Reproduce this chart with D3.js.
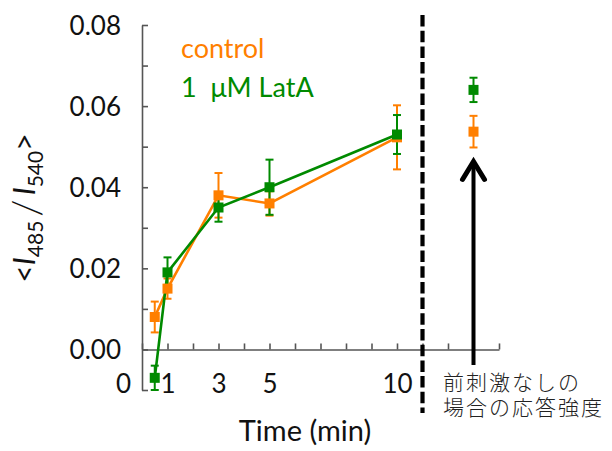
<!DOCTYPE html>
<html>
<head>
<meta charset="utf-8">
<script src="https://cdn.jsdelivr.net/npm/d3@7"></script>
<style>
  html, body { margin: 0; padding: 0; background: #fff; }
  svg { display: block; }
  text { font-family: Lato, "Noto Sans", sans-serif; fill: #111; }
</style>
</head>
<body>
<svg id="chart" width="612" height="451"></svg>
<script>
// Time after stimulus (min) and mean ratio <I485/I540> ± error
const times = [0.5, 1, 3, 5, 10];
const controlMean = [0.008, 0.015, 0.038, 0.036, 0.0523];
const controlErr  = [0.0038, 0.0025, 0.0055, 0.003, 0.0079];
const latAMean    = [-0.007, 0.019, 0.035, 0.040, 0.053];
const latAErr     = [0.003, 0.0037, 0.0035, 0.0068, 0.0048];

// Response without pre-stimulation, shown at a separate position
const noPreTime = 13;
const noPreControl = { mean: 0.0537, err: 0.0039 };
const noPreLatA    = { mean: 0.064,  err: 0.003 };

const dividerTime = 11;
const seriesNames = ["control", "1\u00a0\u00a0\u03bcM LatA"];
const seriesColors = ["#ff7f00", "#008a00"];

const xTicks = d3.range(0, 15);
const xLabeled = [0, 1, 3, 5, 10];
const yTicks = d3.range(-1, 9).map(d => d / 100);
const yLabeled = [0, 0.02, 0.04, 0.06, 0.08];
const noteLines = ["前刺激なしの", "場合の応答強度"];

const svg = d3.select("#chart");
const x = d3.scaleLinear().domain([0, 14]).range([142, 499]);
const y = d3.scaleLinear().domain([-0.01, 0.08]).range([390, 25]);

const axisColor = "#555";

// Y axis, ticks pointing inward
const yAxis = svg.append("g")
  .attr("transform", `translate(${x(0)},0)`)
  .call(d3.axisLeft(y).tickValues(yTicks).tickSizeInner(-6).tickSizeOuter(0)
    .tickFormat(d => yLabeled.some(v => Math.abs(v - d) < 1e-9) ? d3.format(".2f")(d) : ""));
yAxis.selectAll("path, line").attr("stroke", axisColor).attr("stroke-width", 1.6);
yAxis.selectAll("text").attr("x", -21).attr("dy", "0.36em")
  .style("font-size", "26px").style("font-family", "Lato, sans-serif").attr("fill", "#111");

// X axis along y = 0, ticks pointing inward
const xAxis = svg.append("g")
  .attr("transform", `translate(0,${y(0)})`)
  .call(d3.axisBottom(x).tickValues(xTicks).tickSizeInner(-6).tickSizeOuter(0)
    .tickFormat(d => xLabeled.includes(d) ? String(d) : ""));
xAxis.selectAll("path, line").attr("stroke", axisColor).attr("stroke-width", 1.6);
xAxis.selectAll("text").attr("y", 25)
  .style("font-size", "26px").style("font-family", "Lato, sans-serif").attr("fill", "#111")
  .attr("dx", d => d === 0 ? -19 : 0);

// Axis titles
svg.append("text")
  .attr("x", 305).attr("y", 441)
  .attr("text-anchor", "middle")
  .style("font-size", "29px")
  .text("Time (min)");

const yTitle = svg.append("text")
  .attr("transform", "translate(35,208) rotate(-90)")
  .attr("text-anchor", "middle")
  .style("font-size", "30px");
yTitle.append("tspan").text("<");
yTitle.append("tspan").style("font-style", "italic").text("I");
yTitle.append("tspan").attr("dy", 8).style("font-size", "21px").text("485");
yTitle.append("tspan").attr("dy", -2).attr("dx", 4).style("font-size", "40px").style("font-weight", 300).text("/");
yTitle.append("tspan").attr("dy", -6).attr("dx", 4).style("font-style", "italic").text("I");
yTitle.append("tspan").attr("dy", 8).style("font-size", "21px").text("540");
yTitle.append("tspan").attr("dy", -8).text(">");

// Divider between time course and the no-pre-stimulation condition
svg.append("line")
  .attr("x1", x(dividerTime)).attr("x2", x(dividerTime))
  .attr("y1", y.range()[1] - 10).attr("y2", y.range()[0] + 23)
  .attr("stroke", "#000").attr("stroke-width", 4.2)
  .attr("stroke-dasharray", "11.5,4.2");

const series = [
  { mean: controlMean, err: controlErr, extra: noPreControl, color: seriesColors[0] },
  { mean: latAMean, err: latAErr, extra: noPreLatA, color: seriesColors[1] }
];
series.forEach(s => {
  s.points = times.map((t, i) => ({ t, m: s.mean[i], e: s.err[i] }));
  s.all = s.points.concat([{ t: noPreTime, m: s.extra.mean, e: s.extra.err }]);
});

const capW = 4;
// Error bars
series.forEach(s => {
  const g = svg.append("g").attr("stroke", s.color).attr("stroke-width", 2).attr("fill", "none");
  s.all.forEach(p => {
    g.append("line").attr("x1", x(p.t)).attr("x2", x(p.t)).attr("y1", y(p.m - p.e)).attr("y2", y(p.m + p.e));
    g.append("line").attr("x1", x(p.t) - capW).attr("x2", x(p.t) + capW).attr("y1", y(p.m - p.e)).attr("y2", y(p.m - p.e));
    g.append("line").attr("x1", x(p.t) - capW).attr("x2", x(p.t) + capW).attr("y1", y(p.m + p.e)).attr("y2", y(p.m + p.e));
  });
});

// Lines through the time course
const line = d3.line().x(p => x(p.t)).y(p => y(p.m));
series.forEach(s => {
  svg.append("path").datum(s.points)
    .attr("d", line).attr("fill", "none")
    .attr("stroke", s.color).attr("stroke-width", 2.6);
});

// Square markers
const ms = 10;
series.forEach(s => {
  svg.append("g").selectAll("rect").data(s.all).join("rect")
    .attr("x", p => x(p.t) - ms / 2).attr("y", p => y(p.m) - ms / 2)
    .attr("width", ms).attr("height", ms).attr("fill", s.color);
});

// Legend
seriesNames.forEach((name, i) => {
  svg.append("text")
    .attr("x", 181).attr("y", 58 + i * 39)
    .style("font-size", "27px")
    .style("fill", seriesColors[i])
    .text(name);
});

// Arrow pointing to the no-pre-stimulation values
const ax = x(noPreTime);
const tipY = y(noPreControl.mean - noPreControl.err) + 12;
svg.append("line")
  .attr("x1", ax).attr("x2", ax).attr("y1", 365).attr("y2", tipY + 3)
  .attr("stroke", "#000").attr("stroke-width", 4);
svg.append("path")
  .attr("d", `M${ax - 11},${tipY + 20}L${ax},${tipY + 2}L${ax + 11},${tipY + 20}`)
  .attr("fill", "none").attr("stroke", "#000").attr("stroke-width", 5)
  .attr("stroke-linejoin", "miter").attr("stroke-linecap", "round");

// Two-line note under the arrow
const note = svg.append("text")
  .attr("y", 390)
  .style("font-family", "'Noto Sans CJK JP', sans-serif")
  .style("font-size", "21px")
  .style("font-weight", 300)
  .style("letter-spacing", "2px")
  .style("fill", "#222");
noteLines.forEach((t, i) => {
  note.append("tspan").attr("x", 443).attr("dy", i === 0 ? 0 : 25).text(t);
});
</script>
</body>
</html>
